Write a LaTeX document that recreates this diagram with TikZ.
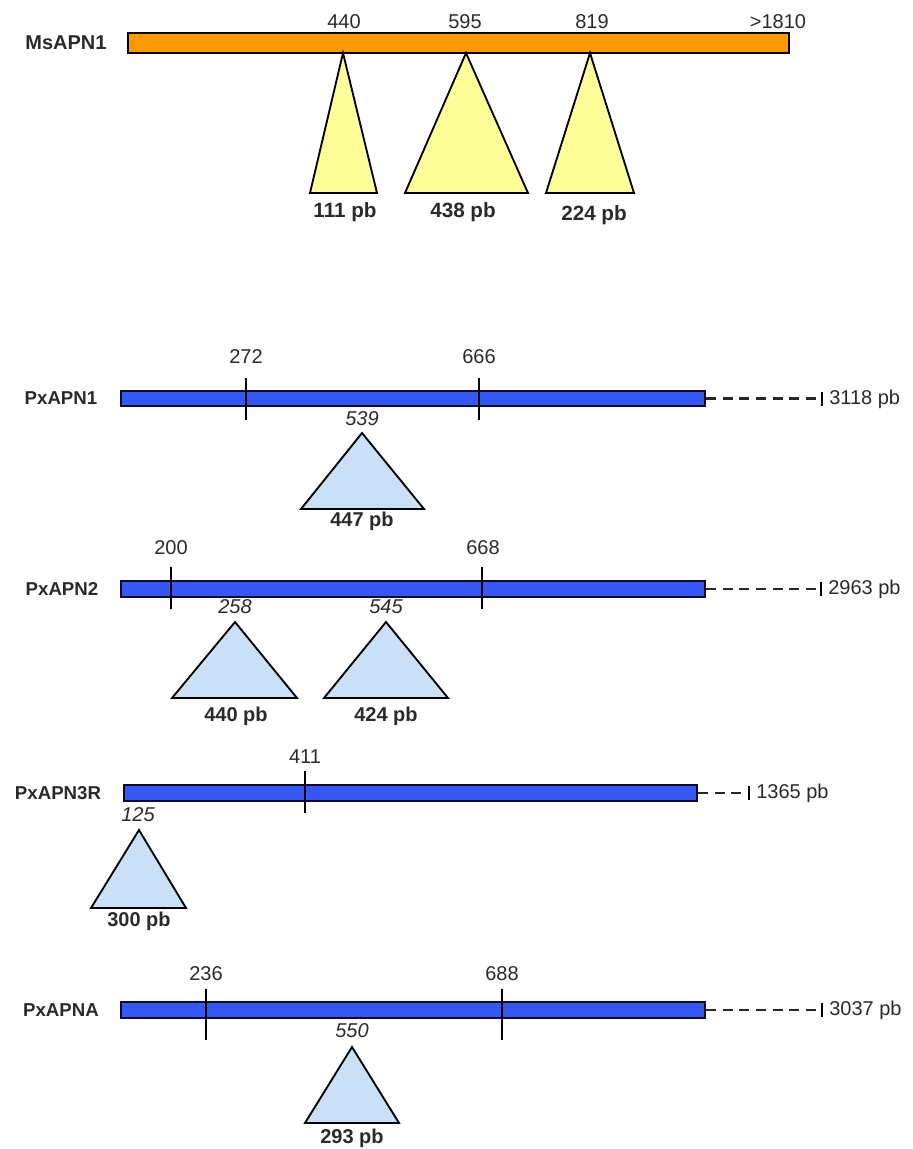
\documentclass[tikz,border=0pt]{standalone}
\usepackage{fontspec}
\setmainfont{Liberation Sans}
\definecolor{msorange}{HTML}{FF9900}
\definecolor{msyellow}{HTML}{FFFF99}
\definecolor{pxblue}{HTML}{3557F3}
\definecolor{pxlight}{HTML}{C9E0F7}
\definecolor{pxedge}{HTML}{0B0B30}
\definecolor{txt}{HTML}{2A2A2A}
\tikzset{
  msbar/.style={draw=black, fill=msorange, line width=1.5pt},
  pxbar/.style={draw=pxedge, fill=pxblue, line width=1.5pt},
  mstri/.style={draw=black, fill=msyellow, line width=1.4pt, line join=miter},
  pxtri/.style={draw=black, fill=pxlight, line width=1.4pt, line join=miter},
  cut/.style={draw=black, line width=1.2pt},
  dashline/.style={draw=black!85, line width=1.8pt, dash pattern=on 7.5pt off 5pt},
  endtick/.style={draw=black, line width=2.2pt},
  gname/.style={font=\fontsize{15}{18}\bfseries\selectfont, text=txt, inner sep=0pt},
  pname/.style={font=\fontsize{14}{17}\bfseries\selectfont, text=txt, inner sep=0pt},
  msnum/.style={font=\fontsize{15}{18}\selectfont, text=txt, inner sep=0pt},
  msbp/.style={font=\fontsize{15.5}{18}\bfseries\selectfont, text=txt, inner sep=0pt},
  pnum/.style={font=\fontsize{15}{17}\selectfont, text=txt, inner sep=0pt},
  pital/.style={font=\fontsize{15}{17}\itshape\selectfont, text=txt, inner sep=0pt},
  pbp/.style={font=\fontsize{15}{17}\bfseries\selectfont, text=txt, inner sep=0pt},
  plen/.style={font=\fontsize{15}{17}\selectfont, text=txt, inner sep=0pt, anchor=west},
}
\begin{document}
\begin{tikzpicture}[x=0.75pt,y=-0.75pt]
\useasboundingbox (0,0) rectangle (913,1149);

% ---------------- MsAPN1 ----------------
\node[gname] (msname) at (66,43) {MsAPN1};
\draw[msbar] (128,33) rectangle (789,53);
\node[msnum] (m440) at (344,22) {440};
\node[msnum] (m595) at (465,22) {595};
\node[msnum] (m819) at (592,22) {819};
\node[msnum] (m1810) at (778,22) {>1810};
\draw[mstri] (343,53) -- (310,193) -- (377,193) -- cycle;
\draw[mstri] (466,53) -- (405,193) -- (528,193) -- cycle;
\draw[mstri] (590,53) -- (546,193) -- (634,193) -- cycle;
\node[msbp] (m111) at (345,212) {111 pb};
\node[msbp] (m438) at (463,212) {438 pb};
\node[msbp] (m224) at (594,215) {224 pb};

% ---------------- PxAPN1 ----------------
\node[pname] (p1name) at (61,398.5) {PxAPN1};
\draw[pxbar] (121,391) rectangle (705,406);
\coordinate (p1a1) at (246,378); \coordinate (p1a2) at (246,420);
\coordinate (p1b1) at (479,378); \coordinate (p1b2) at (479,420);
\draw[cut] (p1a1) -- (p1a2);
\draw[cut] (p1b1) -- (p1b2);
\node[pnum] (p1n272) at (246,357) {272};
\node[pnum] (p1n666) at (479,357) {666};
\coordinate (p1e) at (706,398.5); \coordinate (p1t) at (822,398.5);
\draw[dashline] (p1e) -- (p1t);
\draw[endtick] (822,392) -- (822,406);
\node[plen] (p1len) at (829,399) {3118 pb};
\draw[pxtri] (362,433) -- (301,509) -- (424,509) -- cycle;
\node[pital] (p1i) at (362,419) {539};
\node[pbp] (p1bp) at (362,521) {447 pb};

% ---------------- PxAPN2 ----------------
\node[pname] (p2name) at (62,589) {PxAPN2};
\draw[pxbar] (121,581) rectangle (705,597);
\coordinate (p2a1) at (171,567); \coordinate (p2a2) at (171,609);
\coordinate (p2b1) at (482,567); \coordinate (p2b2) at (482,609);
\draw[cut] (p2a1) -- (p2a2);
\draw[cut] (p2b1) -- (p2b2);
\node[pnum] (p2n200) at (171,548) {200};
\node[pnum] (p2n668) at (483,548) {668};
\coordinate (p2e) at (706,589); \coordinate (p2t) at (821,589);
\draw[dashline] (p2e) -- (p2t);
\draw[endtick] (821,582) -- (821,596);
\node[plen] (p2len) at (828,589.5) {2963 pb};
\draw[pxtri] (235,622) -- (172,698) -- (297,698) -- cycle;
\node[pital] (p2i1) at (235,607) {258};
\node[pbp] (p2bp1) at (236,716) {440 pb};
\draw[pxtri] (386,622) -- (324,698) -- (448,698) -- cycle;
\node[pital] (p2i2) at (386,607) {545};
\node[pbp] (p2bp2) at (386,716) {424 pb};

% ---------------- PxAPN3R ----------------
\node[pname] (p3name) at (58,793) {PxAPN3R};
\draw[pxbar] (124,785) rectangle (697,801);
\coordinate (p3a1) at (305,771); \coordinate (p3a2) at (305,813);
\draw[cut] (p3a1) -- (p3a2);
\node[pnum] (p3n411) at (305,757) {411};
\coordinate (p3e) at (698,793); \coordinate (p3t) at (749,793);
\draw[dashline] (p3e) -- (p3t);
\draw[endtick] (749,786) -- (749,800);
\node[plen] (p3len) at (756,793.5) {1365 pb};
\draw[pxtri] (139,830) -- (91,908) -- (186,908) -- cycle;
\node[pital] (p3i) at (138,815) {125};
\node[pbp] (p3bp) at (139,921) {300 pb};

% ---------------- PxAPNA ----------------
\node[pname] (p4name) at (61,1010) {PxAPNA};
\draw[pxbar] (121,1002) rectangle (705,1018);
\coordinate (p4a1) at (206,989); \coordinate (p4a2) at (206,1040);
\coordinate (p4b1) at (502,989); \coordinate (p4b2) at (502,1040);
\draw[cut] (p4a1) -- (p4a2);
\draw[cut] (p4b1) -- (p4b2);
\node[pnum] (p4n236) at (206,974) {236};
\node[pnum] (p4n688) at (502,974) {688};
\coordinate (p4e) at (706,1010); \coordinate (p4t) at (822,1010);
\draw[dashline] (p4e) -- (p4t);
\draw[endtick] (822,1003) -- (822,1017);
\node[plen] (p4len) at (829,1010.5) {3037 pb};
\draw[pxtri] (352,1047) -- (305,1123) -- (399,1123) -- cycle;
\node[pital] (p4i) at (352,1031) {550};
\node[pbp] (p4bp) at (352,1138) {293 pb};
\end{tikzpicture}
\end{document}
